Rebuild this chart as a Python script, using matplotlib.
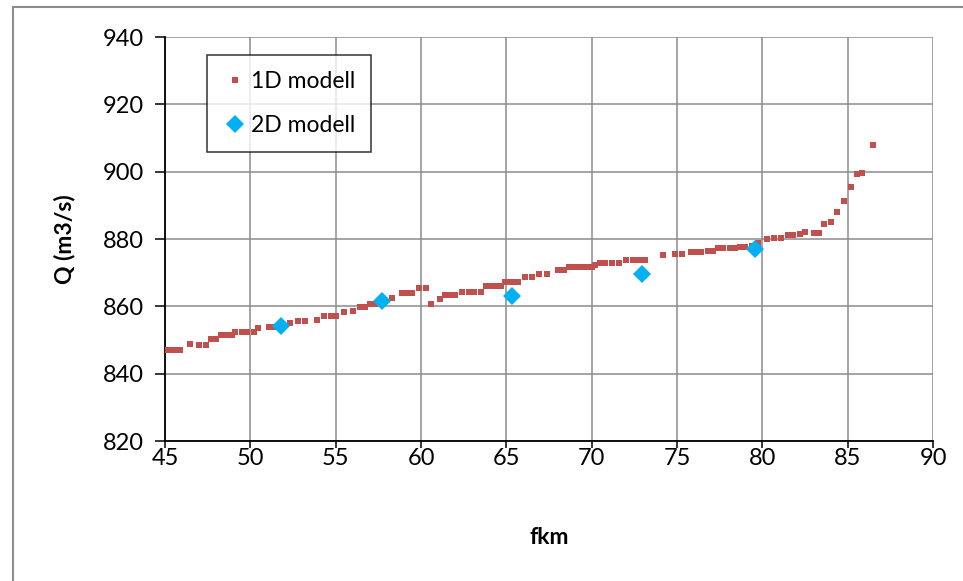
import matplotlib.pyplot as plt
from matplotlib.lines import Line2D

# 1D model: discharge along the river (fkm, Q)
fkm_1d = [45.0, 45.3, 45.6, 45.9, 46.45, 47.0, 47.4, 47.7, 48.0, 48.3, 48.6, 48.9,
          49.1, 49.5, 49.8, 50.2, 50.45, 51.1, 51.35, 51.8, 52.3, 52.8, 53.2, 53.9,
          54.3, 54.7, 55.0, 55.5, 56.0, 56.4, 56.7, 57.0, 57.3, 57.7, 58.3, 58.9,
          59.2, 59.45, 59.9, 60.3, 60.6, 61.1, 61.4, 61.7, 62.0, 62.4, 62.8, 63.1,
          63.5, 63.8, 64.1, 64.4, 64.7, 64.9, 65.2, 65.5, 65.7, 66.1, 66.5, 66.9,
          67.4, 68.0, 68.4, 68.7, 69.0, 69.4, 69.7, 70.0, 70.2, 70.5, 70.8, 71.2,
          71.6, 72.0, 72.4, 72.8, 73.1, 74.2, 74.9, 75.3, 75.8, 76.1, 76.4, 76.8,
          77.1, 77.4, 77.7, 78.1, 78.4, 78.7, 79.0, 79.4, 79.75, 80.25, 80.7, 81.1,
          81.5, 81.8, 82.2, 82.5, 83.0, 83.3, 83.6, 84.0, 84.35, 84.8, 85.17, 85.56,
          85.85, 86.46]
q_1d = [847.1, 847.1, 847.1, 847.1, 848.7, 848.5, 848.5, 850.2, 850.2, 851.4, 851.4, 851.4,
        852.5, 852.5, 852.5, 852.5, 853.7, 854.0, 854.0, 854.4, 855.0, 855.6, 855.6, 856.0,
        857.0, 857.0, 857.1, 858.4, 858.7, 859.7, 859.7, 860.7, 860.7, 861.5, 862.4, 863.9,
        863.9, 863.9, 865.4, 865.4, 860.6, 862.1, 863.4, 863.4, 863.4, 864.4, 864.4, 864.4,
        864.4, 865.9, 865.9, 865.9, 865.9, 867.3, 867.3, 867.3, 867.3, 868.6, 868.6, 869.6,
        869.6, 870.9, 870.9, 871.6, 871.6, 871.6, 871.6, 871.6, 872.3, 872.8, 872.8, 872.8,
        872.8, 873.8, 873.8, 873.8, 873.8, 875.2, 875.5, 875.5, 876.2, 876.2, 876.2, 876.5,
        876.5, 877.3, 877.3, 877.3, 877.3, 877.7, 877.7, 878.0, 878.7, 879.9, 880.2, 880.2,
        881.2, 881.2, 881.5, 882.0, 881.9, 881.9, 884.5, 885.0, 887.9, 891.4, 895.4, 899.3,
        899.7, 907.9]

# 2D model results
fkm_2d = [51.8, 57.73, 65.36, 72.96, 79.56]
q_2d = [854.3, 861.6, 863.0, 869.6, 876.9]

x_ticks = [45, 50, 55, 60, 65, 70, 75, 80, 85, 90]
y_ticks = [820, 840, 860, 880, 900, 920, 940]

plt.rcParams['font.family'] = ['Lato', 'DejaVu Sans']

fig = plt.figure(figsize=(9.63, 5.81), dpi=100)
ax = fig.add_axes([165 / 963, 1 - 441 / 581, 768 / 963, 404 / 581])

# outer chart frame (left and top edges visible)
fig.add_artist(Line2D([13 / 963, 13 / 963], [0, 1 - 7 / 581], color='#8c8c8c', lw=1.5))
fig.add_artist(Line2D([13 / 963, 1], [1 - 7 / 581, 1 - 7 / 581], color='#8c8c8c', lw=1.5))

ax.plot(fkm_1d, q_1d, linestyle='none', marker='s', markersize=4.3,
        color='#C0504D', markeredgewidth=0, label='1D modell', zorder=3)
ax.plot(fkm_2d, q_2d, linestyle='none', marker='D', markersize=9.5,
        color='#00B0F0', markeredgewidth=0, label='2D modell', zorder=4)

ax.set_xlim(45, 90)
ax.set_ylim(820, 940)
ax.set_xticks(x_ticks)
ax.set_yticks(y_ticks)
ax.grid(True, color='#8c8c8c', linewidth=1.1)
ax.set_axisbelow(True)

for side in ['top', 'right']:
    ax.spines[side].set_visible(False)
for side in ['left', 'bottom']:
    ax.spines[side].set_linewidth(1.3)
    ax.spines[side].set_color('black')

ax.tick_params(axis='both', direction='out', width=1.1, labelsize=17, colors='black')
ax.tick_params(axis='y', length=7, pad=8)
ax.tick_params(axis='x', length=5, pad=0)

ax.set_xlabel('fkm', fontsize=16.5, fontweight='bold', labelpad=42)
ax.set_ylabel('Q (m3/s)', fontsize=16.5, fontweight='bold', labelpad=20)

leg = ax.legend(loc='upper left', bbox_to_anchor=(42 / 768, 1 - 18 / 404),
                fontsize=16.5, frameon=True, fancybox=False, borderpad=0.7,
                labelspacing=1.0, handletextpad=0.2, handlelength=1.0,
                borderaxespad=0, markerscale=1.0)
leg.get_frame().set_edgecolor('black')
leg.get_frame().set_linewidth(1.1)

fig.savefig('out.png', dpi=100)
